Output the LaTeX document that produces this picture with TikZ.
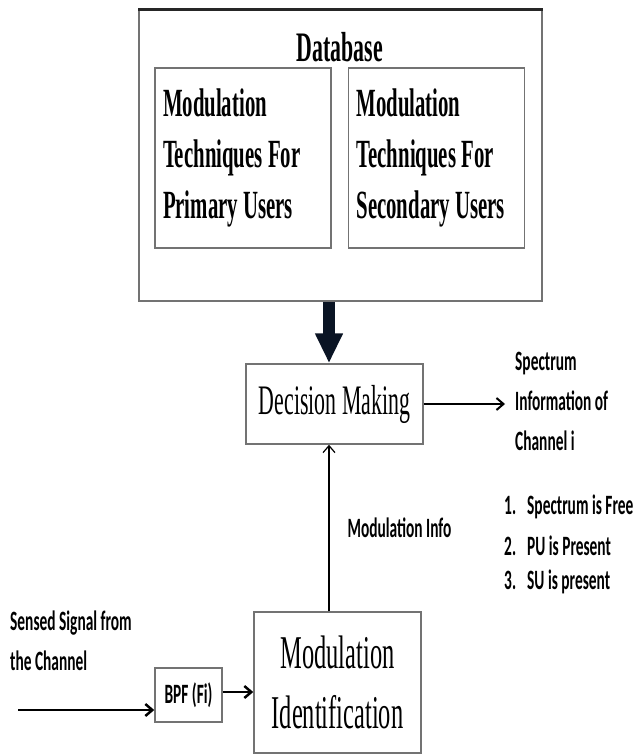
\documentclass[tikz,border=0pt]{standalone}
\usepackage{fontspec}
\newfontfamily\timesfont[FakeStretch=0.52]{Liberation Serif}
\newfontfamily\calfont[FakeStretch=0.55]{Carlito}
\usetikzlibrary{arrows.meta,positioning}
\definecolor{arrowink}{HTML}{0A1424}
\tikzset{
  box/.style={draw=black!55,line width=1.5pt,inner sep=0pt},
  userbox/.style={box,minimum width=176pt,minimum height=180pt,text width=160pt,align=left,font=\timesfont\bfseries\fontsize{40}{51}\selectfont,execute at begin node={\spaceskip=0.13em\relax}},
  stagebox/.style={box,align=center},
  note/.style={inner sep=0pt,align=left,font=\calfont\bfseries\fontsize{28}{40}\selectfont},
  flow/.style={line width=1.5pt,-{Straight Barb[length=7pt,width=12pt]}},
}

\begin{document}
\begin{tikzpicture}[x=1pt,y=-1pt]
\useasboundingbox (0,0) rectangle (632,754);
% database block
\node[box,minimum width=403pt,minimum height=291pt] (db) at (340.5,155.5) {};
\draw[line width=3pt,black!85] (db.north west) -- (db.north east);
\node[font=\timesfont\bfseries\fontsize{42}{50}\selectfont,anchor=base] (dbtitle) at (340,62) {Database};
\node[userbox] (pu) at (243,158) {Modulation\\Techniques For\\Primary Users};
\node[userbox] (su) at (436.5,158) {Modulation\\Techniques For\\Secondary Users};
% processing chain
\node[stagebox,minimum width=177pt,minimum height=80pt,font=\timesfont\fontsize{42}{50}\selectfont] (dm) at (334.5,404) {Decision Making};
\node[stagebox,minimum width=167pt,minimum height=141pt,font=\timesfont\fontsize{47}{60}\selectfont] (mi) at (337.5,682.5) {Modulation\\Identification};
\node[box,minimum width=67pt,minimum height=54pt,font=\calfont\bfseries\fontsize{28}{34}\selectfont] (bpf) at (188.5,695) {BPF (Fi)};
% labels
\node[note,anchor=west] (spec) at (515,401) {Spectrum\\Information of\\Channel i};
\node[note,anchor=west] (sensed) at (10,641) {Sensed Signal from\\the Channel};
\node[note,anchor=base west] (free) at (504,514) {\makebox[23pt][l]{1.}Spectrum is Free};
\node[note,anchor=base west] (pu1) at (504,555) {\makebox[23pt][l]{2.}PU is Present};
\node[note,anchor=base west] (su1) at (504,589) {\makebox[23pt][l]{3.}SU is present};
% connectors
\coordinate (axis) at (329,0);
\coordinate (sig) at (18,710);
\draw[line width=12pt,arrowink,-{Triangle[length=30pt,width=26pt]}] (db.south -| axis) -- (dm.north -| axis);
\draw[flow,line width=2pt,shorten >=10pt] (dm.east) -- (dm.east -| spec.west);
\draw[flow,line width=1.2pt] (mi.north -| axis) -- (dm.south -| axis) node[midway,right=18pt,note] (modinfo) {Modulation Info};
\draw[flow,line width=2.5pt] (sig) -- (sig -| bpf.west);
\draw[flow,line width=2.5pt] ([yshift=3pt]bpf.east) -- ([yshift=3pt]bpf.east -| mi.west);
\end{tikzpicture}
\end{document}
